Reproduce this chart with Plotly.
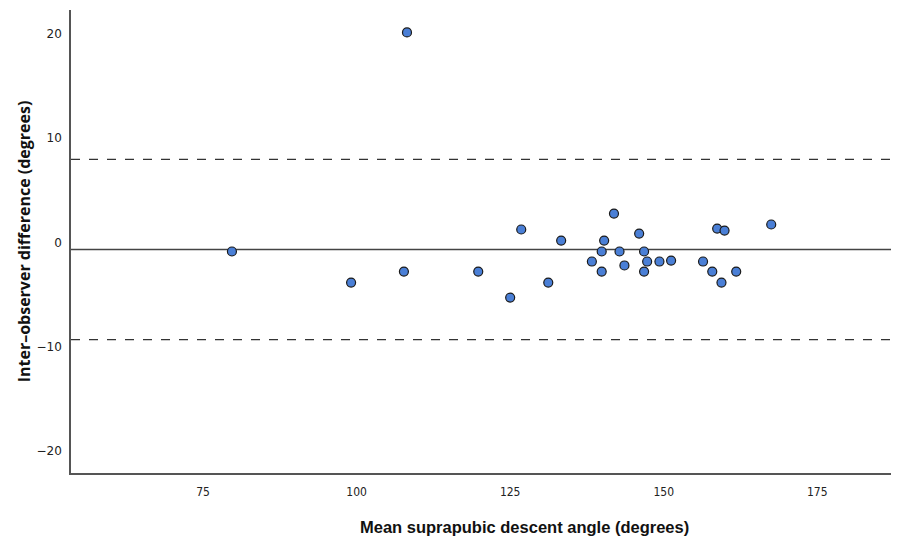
import plotly.graph_objects as go

mean_angle = [79.7, 99.1, 107.7, 108.2, 119.8, 125.0, 126.8, 131.2, 133.3, 138.3,
              139.9, 139.9, 140.3, 141.9, 142.8, 143.6, 146.0, 146.8, 146.8, 147.3,
              149.3, 151.2, 156.4, 157.9, 158.7, 159.4, 159.9, 161.8, 167.5]
difference = [-0.86, -3.84, -2.78, 20.15, -2.78, -5.28, 1.25, -3.84, 0.19, -1.82,
              -0.86, -2.78, 0.19, 2.78, -0.86, -2.2, 0.86, -0.86, -2.78, -1.82,
              -1.82, -1.73, -1.82, -2.78, 1.34, -3.84, 1.15, -2.78, 1.73]

mean_diff = -0.67
upper_loa = 7.97
lower_loa = -9.31

x_ticks = [75, 100, 125, 150, 175]
y_ticks = [-20, -10, 0, 10, 20]

x_range = [53.5, 187]
y_range = [-22.1, 22.3]

fig = go.Figure()
fig.add_trace(go.Scatter(
    x=mean_angle, y=difference, mode="markers",
    marker=dict(size=9, color="#4a7fd6", line=dict(color="#1a1a1a", width=1.2)),
    showlegend=False, cliponaxis=False,
))

fig.add_hline(y=mean_diff, line=dict(color="#444444", width=1.5), layer="below")
fig.add_hline(y=upper_loa, line=dict(color="#333333", width=1.3, dash="dash"), layer="below")
fig.add_hline(y=lower_loa, line=dict(color="#333333", width=1.3, dash="dash"), layer="below")

fig.update_layout(
    width=899, height=538,
    margin=dict(l=71, r=8, t=10, b=65),
    plot_bgcolor="white", paper_bgcolor="white",
    font=dict(family="DejaVu Sans", size=12, color="#222222"),
    xaxis=dict(
        range=x_range, tickvals=x_ticks, showgrid=False, zeroline=False,
        showline=True, linecolor="#555555", linewidth=1.5, ticks="",
        automargin=False, ticklabelstandoff=7,
        tickfont=dict(family="DejaVu Sans Condensed, DejaVu Sans", size=12),
    ),
    yaxis=dict(
        range=y_range, tickvals=y_ticks, showgrid=False, zeroline=False,
        showline=True, linecolor="#555555", linewidth=1.5, ticks="",
        automargin=False, ticklabelstandoff=5,
        tickfont=dict(family="DejaVu Sans", size=12),
        title=dict(text="<b>Inter\u2013observer difference (degrees)</b>",
                   font=dict(family="Open Sans", size=16, color="#111111"), standoff=2),
    ),
    annotations=[dict(
        text="<b>Mean suprapubic descent angle (degrees)</b>",
        x=x_range[0] + (524 - 71) / 820 * (x_range[1] - x_range[0]), xref="x",
        y=0, yref="paper",
        showarrow=False, yanchor="middle", yshift=-54,
        font=dict(family="Liberation Sans", size=16.5, color="#111111"),
    )],
)

fig.write_html(
    "out.html",
    config={"displayModeBar": False},
    post_script="document.body.style.margin='0';document.body.style.overflow='hidden';",
)
